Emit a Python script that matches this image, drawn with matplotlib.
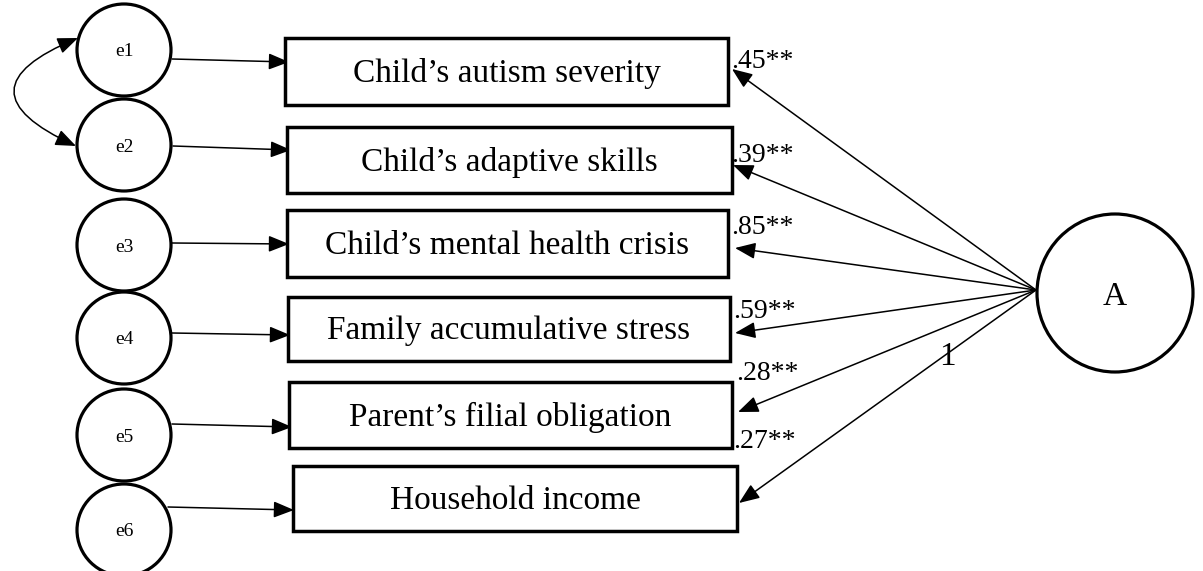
import matplotlib.pyplot as plt
from matplotlib.patches import Ellipse, Rectangle, FancyArrowPatch

# data: measurement model, latent factor A -> six indicators
indicators = ["Child\u2019s autism severity", "Child\u2019s adaptive skills",
              "Child\u2019s mental health crisis", "Family accumulative stress",
              "Parent\u2019s filial obligation", "Household income"]
loadings = [".45**", ".39**", ".85**", ".59**", ".28**", ".27**"]
errors = ["e1", "e2", "e3", "e4", "e5", "e6"]
latent = "A"
fixed_label = "1"

# layout (pixel space of the 1203x571 picture)
err_y = [50, 145, 245, 338, 435, 530]
box_x0 = [285, 287, 287, 288, 289, 293]
box_x1 = [728, 732, 728, 730, 732, 737]
box_y0 = [38, 127, 210, 297, 382, 466]
box_y1 = [105, 193, 277, 361, 448, 531]
err_arrow = [(172, 59, 289, 62), (173, 146, 291, 150), (172, 243, 289, 244),
             (172, 333, 290, 335), (172, 424, 292, 427), (168, 507, 294, 510)]
tips = [(732, 69), (733, 165), (735, 248), (735, 333), (738, 412), (739, 503)]
lab_xy = [(731, 62), (731, 155), (731, 228), (733, 312), (736, 373), (733, 441)]
a_center = (1115, 293)
a_hub = (1036, 290)

fig = plt.figure(figsize=(12.03, 5.71), dpi=100)
ax = fig.add_axes([0, 0, 1, 1])
ax.set_xlim(0, 1203)
ax.set_ylim(571, 0)
ax.axis("off")

serif = "Liberation Serif"
arrow_kw = dict(arrowstyle="-|>,head_length=1.25,head_width=0.5",
                mutation_scale=10, color="black", lw=1.1,
                shrinkA=0, shrinkB=0)

for i in range(6):
    # error circle
    ax.add_patch(Ellipse((124, err_y[i]), 94, 92, fill=False, lw=2.3,
                         ec="black", zorder=3))
    ax.text(124, err_y[i] + 2, errors[i], family=serif, fontsize=14,
            ha="center", va="center", zorder=4)
    # error path
    x0, y0, x1, y1 = err_arrow[i]
    ax.add_patch(FancyArrowPatch((x0, y0), (x1, y1), zorder=2, **arrow_kw))
    # indicator box
    ax.add_patch(Rectangle((box_x0[i], box_y0[i]), box_x1[i] - box_x0[i],
                           box_y1[i] - box_y0[i], fc="white", ec="black",
                           lw=2.5, zorder=3))
    ax.text((box_x0[i] + box_x1[i]) / 2, (box_y0[i] + box_y1[i]) / 2 + 2,
            indicators[i], family=serif, fontsize=24, ha="center",
            va="center", zorder=4)
    # loading from A
    ax.add_patch(FancyArrowPatch(a_hub, tips[i], zorder=2, **arrow_kw))
    ax.text(lab_xy[i][0], lab_xy[i][1], loadings[i], family=serif,
            fontsize=20, ha="left", va="center", zorder=1)

# correlated errors e1 <-> e2
ax.add_patch(FancyArrowPatch((78, 38), (76, 146),
                             connectionstyle="arc3,rad=1.15",
                             arrowstyle="<|-|>,head_length=1.25,head_width=0.5",
                             mutation_scale=10, color="black", lw=1.1,
                             shrinkA=0, shrinkB=0, zorder=2))

# latent factor
ax.add_patch(Ellipse(a_center, 156, 158, fc="white", ec="black", lw=2.3,
                     zorder=3))
ax.text(a_center[0], a_center[1] + 4, latent, family=serif, fontsize=24,
        ha="center", va="center", zorder=4)
ax.text(947, 357, fixed_label, family=serif, fontsize=24, ha="center",
        va="center", zorder=4)

fig.savefig("out.png", dpi=100)
